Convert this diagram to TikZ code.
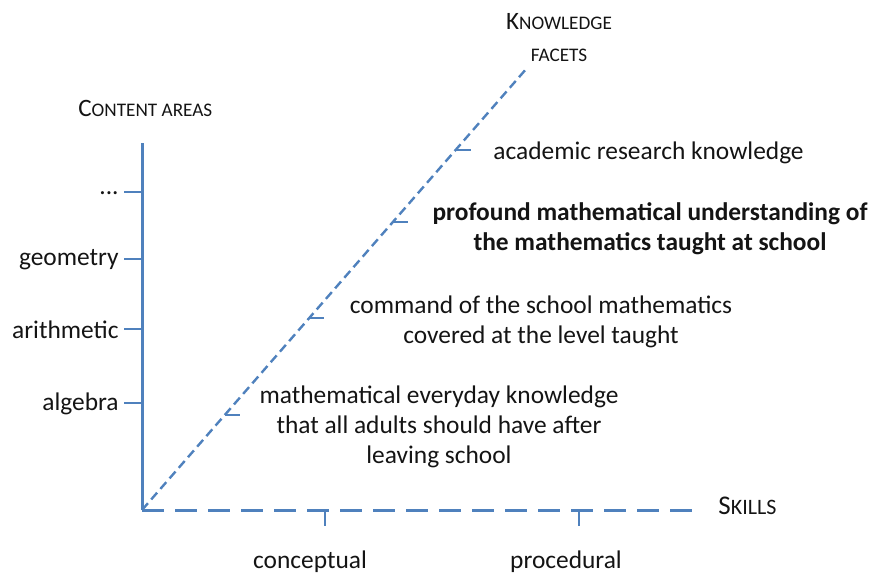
\documentclass[tikz,border=0pt]{standalone}
\usepackage{fontspec}
\setmainfont{Carlito}
\usetikzlibrary{calc}
\definecolor{axisblue}{RGB}{79,129,189}
\definecolor{txt}{RGB}{20,20,20}
\newcommand{\bigc}[1]{{\fontsize{12.5}{14}\selectfont #1}}
\newcommand{\smc}[1]{{\fontsize{9.6}{14}\selectfont #1}}
\begin{document}
\begin{tikzpicture}[x=0.5pt,y=-0.5pt,
  lbl/.style={text=txt,font=\fontsize{12.7}{15}\selectfont,inner sep=0pt},
  axisline/.style={draw=axisblue,line width=1.5pt},
  hdash/.style={draw=axisblue,line width=1.5pt,dash pattern=on 11pt off 5.5pt},
  ddash/.style={draw=axisblue,line width=1.2pt,dash pattern=on 4.5pt off 2.5pt},
  tickline/.style={draw=axisblue,line width=0.6pt}]
\useasboundingbox (0,0) rectangle (870,574);
% axes
\coordinate (O) at (142,510);
\coordinate (Vtop) at (142,143);
\coordinate (Hend) at (702,510);
\coordinate (E) at (527,68);
\draw[axisline] (O) -- (Vtop);
\draw[hdash] (O) -- (Hend);
\draw[ddash] (O) -- (E);
% axis titles
\node[lbl,anchor=west] (ca) at (78,108) {\bigc{C}\smc{ONTENT AREAS}};
\node[lbl,anchor=center,align=center] (kf) at (559,38) {\bigc{K}\smc{NOWLEDGE}\\[1pt]\smc{FACETS}};
\node[lbl,anchor=west] (sk) at (718,506) {{\fontsize{13.5}{14}\selectfont S}{\fontsize{11}{14}\selectfont KILLS}};
% vertical ticks and labels
\foreach \y/\t/\n in {192/{...}/dots,259/geometry/geo,329/arithmetic/ari,403/algebra/alg}{
  \coordinate (v\n) at (142,\y);
  \coordinate (vt\n) at (124,\y);
  \draw[tickline] (v\n) -- (vt\n);
  \node[lbl,anchor=east] (l\n) at (119,\y+1) {\t};
}
% horizontal ticks and labels
\coordinate (h1) at (325,510); \coordinate (h1b) at (325,526);
\coordinate (h2) at (579,510); \coordinate (h2b) at (579,526);
\draw[tickline] (h1) -- (h1b);
\draw[tickline] (h2) -- (h2b);
\node[lbl] (conc) at (310,562) {conceptual};
\node[lbl] (proc) at (566,562) {procedural};
% diagonal ticks
\foreach \t/\n in {0.8145/a,0.6516/b,0.4344/c,0.2149/d}{
  \coordinate (d\n) at ($(O)!\t!(E)$);
  \coordinate (dt\n) at ($(d\n)+(15,0)$);
  \draw[tickline] (d\n) -- (dt\n);
}
% facet labels
\node[lbl,anchor=west] (fa) at (493,153) {academic research knowledge};
\node[lbl,align=center,font=\fontsize{12.7}{15}\selectfont\bfseries] (fb) at (650,229) {profound mathematical understanding of\\the mathematics taught at school};
\node[lbl,align=center] (fc) at (541,322) {command of the school mathematics\\covered at the level taught};
\node[lbl,align=center] (fd) at (439,427) {mathematical everyday knowledge\\that all adults should have after\\leaving school};
\end{tikzpicture}
\end{document}
